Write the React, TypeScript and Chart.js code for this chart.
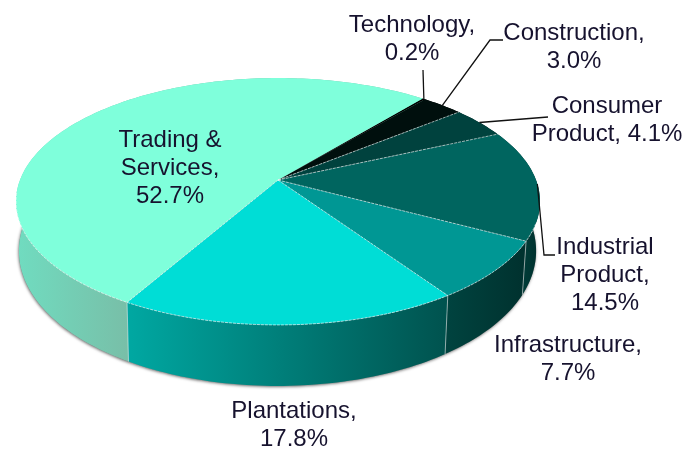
import React, { useEffect, useRef } from "react";
import { Chart, registerables } from "chart.js";

Chart.register(...registerables);

const categories = ["Technology", "Construction", "Consumer Product", "Industrial Product", "Infrastructure", "Plantations", "Trading & Services"];
const shares = [0.2, 3.0, 4.1, 14.5, 7.7, 17.8, 52.7];
const labelLines = [
  ["Technology,", "0.2%"],
  ["Construction,", "3.0%"],
  ["Consumer", "Product, 4.1%"],
  ["Industrial", "Product,", "14.5%"],
  ["Infrastructure,", "7.7%"],
  ["Plantations,", "17.8%"],
  ["Trading &", "Services,", "52.7%"],
];
const topColors = ["#000000", "#000f0d", "#00423e", "#00655f", "#009794", "#00ddd6", "#7fffdb"];
const sideStops = [
  ["#000000", "#000000"],
  ["#000000", "#000000"],
  ["#002523", "#002523"],
  ["#003a36", "#002f2c"],
  ["#00433f", "#00312e"],
  ["#00a8a2", "#00524e"],
  ["#70dcc0", "#78bfa8"],
];
const labelAnchors = [
  { x: 412, y: 32 }, { x: 574, y: 40 }, { x: 607, y: 113 }, { x: 605, y: 254 },
  { x: 568, y: 352 }, { x: 294, y: 418 }, { x: 170, y: 147 },
];
const leaderPaths = [
  [[423, 70]],
  [[490, 40], [503, 40]],
  [[548, 117]],
  [[544, 255], [555, 255]],
];

const CX = 278, CY = 180, R = 258, B = 88.4, D = -0.174, SHRINK = 0.987, LINE_HEIGHT = 28;

const project = (a: number, lifted = true) => {
  const u = Math.cos(a), v = Math.sin(a);
  const w = 1 + D * v;
  const x = CX + (R * u) / w;
  const y = (CY + B * v) / w;
  return lifted ? { x, y } : { x: CX - 0.5 + (x - CX) * SHRINK, y: y + 47 + 14 * v };
};

const rimPoints = (a0: number, a1: number, lifted = true) => {
  const n = Math.max(2, Math.ceil(Math.abs(a1 - a0) / 0.02));
  const pts = [];
  for (let i = 0; i <= n; i++) pts.push(project(a0 + ((a1 - a0) * i) / n, lifted));
  return pts;
};

const pie3d = {
  id: "pie3d",
  beforeDatasetDraw(chart: any, args: any) {
    const ctx = chart.ctx;
    const arcs = chart.getDatasetMeta(args.index).data;
    ctx.save();
    // soft shadow under the base
    ctx.save();
    ctx.shadowColor = "rgba(0,0,0,0.55)";
    ctx.shadowBlur = 3;
    ctx.shadowOffsetX = -0.5;
    ctx.shadowOffsetY = 1;
    ctx.fillStyle = "#888";
    ctx.beginPath();
    rimPoints(0, Math.PI * 2, false).forEach((p, k) => (k ? ctx.lineTo(p.x, p.y) : ctx.moveTo(p.x, p.y)));
    ctx.closePath();
    ctx.fill();
    ctx.restore();
    // side walls, back to front
    const order = arcs.map((_: any, i: number) => i).sort((p: number, q: number) => {
      const mid = (k: number) => Math.sin((arcs[k].startAngle + arcs[k].endAngle) / 2);
      return mid(p) - mid(q);
    });
    order.forEach((i: number) => {
      const { startAngle, endAngle } = arcs[i];
      const top = rimPoints(startAngle, endAngle, true);
      const bottom = rimPoints(startAngle, endAngle, false).reverse();
      const front = [...top].filter((p) => p.y > CY + 20);
      const xs = (front.length ? front : top).map((p) => p.x);
      const g = ctx.createLinearGradient(Math.min(...xs), 0, Math.max(...xs), 0);
      g.addColorStop(0, sideStops[i][0]);
      g.addColorStop(1, sideStops[i][1]);
      ctx.beginPath();
      [...top, ...bottom].forEach((p, k) => (k ? ctx.lineTo(p.x, p.y) : ctx.moveTo(p.x, p.y)));
      ctx.closePath();
      ctx.fillStyle = g;
      ctx.fill();
    });
    // wall seams
    arcs.forEach((arc: any) => {
      const p = project(arc.endAngle, true), q = project(arc.endAngle, false);
      if (Math.sin(arc.endAngle) < 0.1) return;
      ctx.beginPath();
      ctx.moveTo(p.x, p.y);
      ctx.lineTo(q.x, q.y);
      ctx.strokeStyle = "rgba(255,255,255,0.5)";
      ctx.lineWidth = 1;
      ctx.stroke();
    });
    // top faces
    arcs.forEach((arc: any, i: number) => {
      ctx.beginPath();
      ctx.moveTo(CX, CY);
      rimPoints(arc.startAngle, arc.endAngle).forEach((p) => ctx.lineTo(p.x, p.y));
      ctx.closePath();
      ctx.fillStyle = topColors[i];
      ctx.fill();
    });
    // dashed light edges
    ctx.strokeStyle = "rgba(255,255,255,0.6)";
    ctx.lineWidth = 1;
    ctx.setLineDash([3, 1]);
    arcs.forEach((arc: any, i: number) => {
      if (i < 2) return;
      const p = project(arc.startAngle);
      ctx.beginPath();
      ctx.moveTo(CX, CY);
      ctx.lineTo(p.x, p.y);
      ctx.stroke();
    });
    ctx.beginPath();
    rimPoints(0.35, Math.PI - 0.1).forEach((p, k) => (k ? ctx.lineTo(p.x, p.y) : ctx.moveTo(p.x, p.y)));
    ctx.stroke();
    ctx.setLineDash([]);
    // leader lines
    ctx.strokeStyle = "#111";
    ctx.lineWidth = 1.3;
    leaderPaths.forEach((path, i) => {
      const arc = arcs[i];
      const s = project((arc.startAngle + arc.endAngle) / 2);
      ctx.beginPath();
      ctx.moveTo(s.x, s.y);
      path.forEach(([x, y]) => ctx.lineTo(x, y));
      ctx.stroke();
    });
    // labels
    ctx.fillStyle = "#16122e";
    ctx.font = "24px 'Liberation Sans'";
    ctx.textAlign = "center";
    ctx.textBaseline = "alphabetic";
    labelLines.forEach((lines, i) => {
      lines.forEach((t, k) => ctx.fillText(t, labelAnchors[i].x, labelAnchors[i].y + k * LINE_HEIGHT));
    });
    ctx.restore();
    return false;
  },
};

export default function App() {
  const ref = useRef<HTMLCanvasElement>(null);
  useEffect(() => {
    document.body.style.margin = "0";
    const chart = new Chart(ref.current!, {
      type: "pie",
      data: { labels: categories, datasets: [{ data: shares, backgroundColor: topColors, borderWidth: 0 }] },
      options: {
        animation: false,
        responsive: false,
        rotation: 39.5,
        plugins: { legend: { display: false }, tooltip: { enabled: false } },
      },
      plugins: [pie3d],
    } as any);
    return () => chart.destroy();
  }, []);
  return <canvas ref={ref} width={683} height={450} style={{ display: "block", filter: "blur(0.5px)" }} />;
}
